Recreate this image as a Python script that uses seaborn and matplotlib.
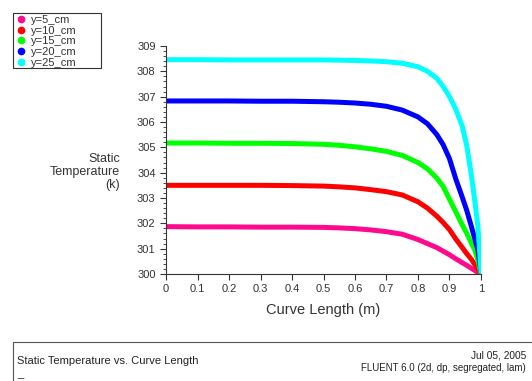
import seaborn as sns
import matplotlib.pyplot as plt
import pandas as pd
from matplotlib.lines import Line2D
from matplotlib.patches import Rectangle

# curve length positions (m)
x = [0, 0.1, 0.2, 0.3, 0.4, 0.5, 0.55, 0.6, 0.65, 0.7, 0.75, 0.8, 0.83, 0.86, 0.88,
     0.9, 0.92, 0.94, 0.955, 0.97, 0.98, 0.99, 1.0]
# static temperature (k) per line
y5 = [301.87, 301.86, 301.86, 301.85, 301.85, 301.84, 301.82, 301.79, 301.74, 301.67,
      301.57, 301.36, 301.2, 301.04, 300.9, 300.76, 300.6, 300.45, 300.34, 300.22,
      300.14, 300.06, 300.0]
y10 = [303.5, 303.5, 303.5, 303.5, 303.49, 303.47, 303.44, 303.4, 303.33, 303.25,
       303.12, 302.85, 302.6, 302.28, 302.03, 301.75, 301.38, 301.05, 300.8, 300.57,
       300.38, 300.2, 300.0]
y15 = [305.17, 305.17, 305.16, 305.16, 305.15, 305.12, 305.08, 305.02, 304.94, 304.84,
       304.68, 304.4, 304.15, 303.78, 303.45, 302.95, 302.45, 301.95, 301.6, 301.2,
       300.95, 300.55, 300.0]
y20 = [306.83, 306.83, 306.83, 306.82, 306.82, 306.8, 306.78, 306.75, 306.7, 306.62,
       306.47, 306.2, 305.93, 305.5, 305.1, 304.55, 303.75, 303.05, 302.5, 301.85,
       301.4, 300.95, 300.1]
y25 = [308.46, 308.46, 308.45, 308.45, 308.45, 308.45, 308.44, 308.43, 308.41, 308.38,
       308.32, 308.18, 308.0, 307.72, 307.4, 307.0, 306.5, 305.85, 305.05, 303.85,
       302.9, 301.9, 300.1]

names = ['y=5_cm', 'y=10_cm', 'y=15_cm', 'y=20_cm', 'y=25_cm']
colors = ['#ff0a8c', '#ff0000', '#00ff00', '#0000ff', '#00ffff']

rows = []
for n, vals in zip(names, [y5, y10, y15, y20, y25]):
    for xi, v in zip(x, vals):
        rows.append({'x': xi, 'T': v, 'line': n})
df = pd.DataFrame(rows)

sns.set_style('white')
plt.rcParams['font.family'] = ['Liberation Sans', 'DejaVu Sans']

fig = plt.figure(figsize=(5.32, 3.81), dpi=100)
ax = fig.add_axes([166/532, 107/381, 315/532, 228/381])

sns.lineplot(data=df, x='x', y='T', hue='line', palette=dict(zip(names, colors)),
             linewidth=3.6, legend=False, ax=ax, solid_capstyle='round')

ax.set_xlim(0, 1)
ax.set_ylim(300, 309)
ax.set_xticks([i/10 for i in range(11)])
ax.set_xticklabels(['0'] + [f'{i/10:g}' for i in range(1, 10)] + ['1'])
ax.set_yticks(range(300, 310))
ax.set_yticks([300 + i*0.2 for i in range(46)], minor=True)
ax.tick_params(axis='both', which='major', length=4, width=0.8, colors='#333333',
               labelsize=8, labelcolor='#333333', direction='out')
ax.tick_params(axis='y', which='minor', length=2, width=0.6, color='#333333', left=True)
ax.tick_params(axis='x', which='major', bottom=True)
ax.tick_params(axis='y', which='major', left=True)
for s in ['top', 'right']:
    ax.spines[s].set_visible(False)
for s in ['left', 'bottom']:
    ax.spines[s].set_color('#333333')
    ax.spines[s].set_linewidth(0.8)

ax.set_xlabel('Curve Length (m)', fontsize=10.5, color='#333333', labelpad=6)
ax.set_ylabel('')
fig.text(120/532, 1 - 172/381, 'Static\nTemperature\n(k)', ha='right', va='center',
         fontsize=9, color='#333333', multialignment='right', linespacing=1.15)

handles = [Line2D([], [], marker='o', color=c, linestyle='', markersize=4.5) for c in colors]
leg = fig.legend(handles, names, loc='upper left', bbox_to_anchor=(15/532, 1 - 15/381),
                 fontsize=8, frameon=False, borderpad=0.0,
                 labelspacing=0.06, handletextpad=0.4, handlelength=1.0,
                 borderaxespad=0)
for t in leg.get_texts():
    t.set_color('#333333')
fig.add_artist(Rectangle((13/532, 1 - 68/381), 88/532, 55/381, transform=fig.transFigure,
                         fill=False, edgecolor='#333333', lw=0.8))

# footer box
fig.add_artist(Line2D([13/532, 1], [1 - 342/381, 1 - 342/381], color='#555555', lw=0.8))
fig.add_artist(Line2D([13/532, 13/532], [0, 1 - 342/381], color='#555555', lw=0.8))
fig.text(17/532, 1 - 361/381, 'Static Temperature vs. Curve Length', fontsize=8,
         va='center', color='#222222')
fig.text(17/532, 1 - 374/381, '_', fontsize=8, va='center', color='#222222')
fig.text(526/532, 1 - 356/381, 'Jul 05, 2005', fontsize=7.3, ha='right', va='center',
         color='#222222')
fig.text(526/532, 1 - 368/381, 'FLUENT 6.0 (2d, dp, segregated, lam)', fontsize=7,
         ha='right', va='center', color='#222222')

fig.savefig('out.png', dpi=100)
